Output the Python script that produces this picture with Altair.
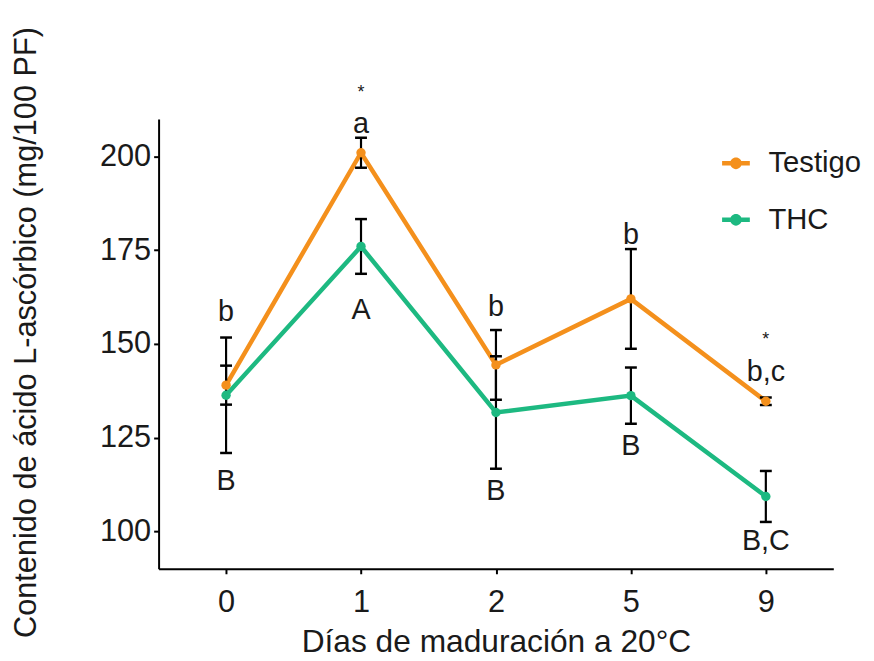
import altair as alt
import pandas as pd

# ---- data ----
days = ["0", "1", "2", "5", "9"]
series = ["Testigo", "THC"]
testigo = [139.0, 201.0, 144.4, 162.0, 134.7]
testigo_err = [5.2, 4.0, 9.3, 13.3, 1.0]
thc = [136.3, 176.0, 131.7, 136.2, 109.3]
thc_err = [15.4, 7.3, 15.0, 7.5, 6.8]

testigo_letters = ["b", "a", "b", "b", "b,c"]
testigo_letter_y = [158.5, 208.7, 159.8, 179.1, 142.6]
thc_letters = ["B", "A", "B", "B", "B,C"]
thc_letter_y = [113.3, 159.0, 110.7, 122.8, 97.4]
star_days = ["1", "9"]
star_y = [217.0, 151.0]

y_ticks = [100, 125, 150, 175, 200]
colors = ["#F4901C", "#1DB981"]
FONT = "Liberation Sans"

rows = []
for s, vals, errs in [("Testigo", testigo, testigo_err), ("THC", thc, thc_err)]:
    for d, v, e in zip(days, vals, errs):
        rows.append({"day": d, "serie": s, "value": v, "lo": v - e, "hi": v + e})
df = pd.DataFrame(rows)

letters_df = pd.DataFrame(
    {"day": days + days,
     "label": testigo_letters + thc_letters,
     "ly": testigo_letter_y + thc_letter_y}
)
stars_df = pd.DataFrame({"day": star_days, "label": ["*"] * len(star_days), "ly": star_y})

x_enc = alt.X(
    "day:O",
    sort=days,
    scale=alt.Scale(type="point", padding=0.5),
    axis=alt.Axis(
        title="Días de maduración a 20°C",
        labelAngle=0,
        labelFontSize=31,
        labelPadding=14,
        titleFontSize=32,
        titleFontWeight="normal",
        titleBaseline="alphabetic",
        titleAlign="center",
        titleX=340.5,
        titleY=83,
    ),
)
y_scale = alt.Scale(domain=[90, 210], nice=False, zero=False)
y_enc = alt.Y(
    "value:Q",
    scale=y_scale,
    axis=alt.Axis(
        values=y_ticks,
        title="Contenido de ácido L-ascórbico (mg/100 PF)",
        labelFontSize=31,
        labelPadding=3,
        titleFontSize=31,
        titleFontWeight="normal",
        titleAngle=-90,
        titleAlign="center",
        titleBaseline="middle",
        titleX=-133,
        titleY=215,
    ),
)
color_enc = alt.Color(
    "serie:N",
    scale=alt.Scale(domain=series, range=colors),
    legend=alt.Legend(
        title=None,
        orient="none",
        legendX=568,
        legendY=30,
        padding=0,
        symbolType="M-1,-0.16L1,-0.16L1,0.16L-1,0.16Z M-0.42,0A0.42,0.42 0 1 1 0.42,0A0.42,0.42 0 1 1 -0.42,0Z",
        symbolSize=784,
        symbolStrokeWidth=0,
        symbolOpacity=1,
        labelFontSize=29.5,
        labelOffset=18,
        rowPadding=26,
        labelColor="#1a1a1a",
        labelFont=FONT,
    ),
)

base = alt.Chart(df)
lines = base.mark_line(strokeWidth=4.5).encode(x=x_enc, y=y_enc, color=color_enc)
err_rule = base.mark_rule(color="black", strokeWidth=2.2).encode(
    x=alt.X("day:O", sort=days), y=alt.Y("lo:Q", scale=y_scale), y2="hi:Q"
)
err_lo = base.mark_tick(color="black", thickness=2.5, size=12, opacity=1).encode(
    x=alt.X("day:O", sort=days), y=alt.Y("lo:Q", scale=y_scale)
)
err_hi = base.mark_tick(color="black", thickness=2.5, size=12, opacity=1).encode(
    x=alt.X("day:O", sort=days), y=alt.Y("hi:Q", scale=y_scale)
)
points = base.mark_circle(size=90, opacity=1).encode(x=x_enc, y=y_enc, color=color_enc)

letters = alt.Chart(letters_df).mark_text(
    fontSize=29, font=FONT, color="#1a1a1a", baseline="middle"
).encode(x=alt.X("day:O", sort=days), y=alt.Y("ly:Q", scale=y_scale), text="label:N")
stars = alt.Chart(stars_df).mark_text(
    fontSize=18, font=FONT, color="#1a1a1a", baseline="middle"
).encode(x=alt.X("day:O", sort=days), y=alt.Y("ly:Q", scale=y_scale), text="label:N")

chart = (
    alt.layer(lines, err_rule, err_lo, err_hi, points, letters, stars)
    .properties(
        width=681,
        height=454,
        padding={"left": 152, "top": 109, "right": 33, "bottom": 88},
        autosize=alt.AutoSizeParams(type="none"),
        background="white",
    )
    .configure_view(stroke=None)
    .configure_axis(
        grid=False,
        domainColor="black",
        domainWidth=2,
        tickColor="black",
        tickWidth=2,
        tickSize=5,
        labelColor="#1a1a1a",
        titleColor="#1a1a1a",
        labelFont=FONT,
        titleFont=FONT,
    )
)

chart.save("out.html", embed_options={"renderer": "svg", "actions": False})
